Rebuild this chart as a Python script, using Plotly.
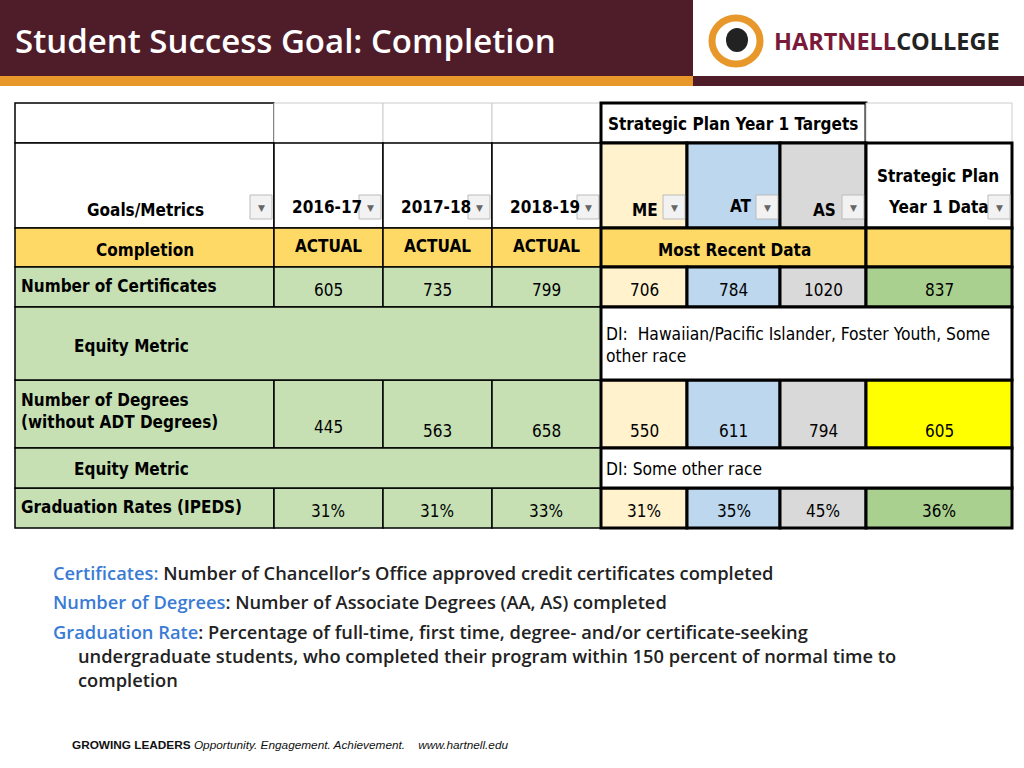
import plotly.graph_objects as go

# ---- data ----
years = ["2016-17", "2017-18", "2018-19"]
metrics = ["Number of Certificates", "Number of Degrees<br>(without ADT Degrees)", "Graduation Rates (IPEDS)"]
actual = [["605", "735", "799"], ["445", "563", "658"], ["31%", "31%", "33%"]]
target_labels = ["ME", "AT", "AS"]
targets = [["706", "784", "1020"], ["550", "611", "794"], ["31%", "35%", "45%"]]
year1_data = ["837", "605", "36%"]
equity_text = ["DI:  Hawaiian/Pacific Islander, Foster Youth, Some<br>other race", "DI: Some other race"]
definitions = [
    ("Certificates:", " Number of Chancellor’s Office approved credit certificates completed"),
    ("Number of Degrees", ": Number of Associate Degrees (AA, AS) completed"),
    ("Graduation Rate", ": Percentage of full-time, first time, degree- and/or certificate-seeking"),
]

# ---- style ----
MAROON = "#4f1c2a"; GOLD = "#e8982b"; GREEN = "#c6e0b4"; YEL = "#ffd966"
ME_C = "#fff2cc"; AT_C = "#bdd7ee"; AS_C = "#d9d9d9"; G2 = "#a9d08e"; Y2 = "#ffff00"
TF = "DejaVu Sans Condensed, Liberation Sans Narrow, sans-serif"
HF = "Open Sans, Lato, sans-serif"

fig = go.Figure()
shapes = []; ann = []

def rect(x0, y0, x1, y1, fill, lc="black", lw=1.5):
    shapes.append(dict(type="rect", x0=x0, y0=y0, x1=x1, y1=y1, fillcolor=fill,
                       line=dict(color=lc, width=lw), layer="below"))

def text(x, y, t, size=17, color="black", xa="center", ya="middle", font=TF, bold=False, weight=None):
    f = dict(size=size, color=color, family=font)
    if bold:
        f["weight"] = 700
    if weight:
        f["weight"] = weight
    ann.append(dict(x=x, y=y, text=t, showarrow=False, xanchor=xa, yanchor=ya,
                    font=f, align="left" if xa == "left" else "center"))

def dd(x, y):
    rect(x, y, x + 22, y + 24, "#f2f2f2", "#bbbbbb", 1)
    text(x + 11, y + 13, "▼", size=9, color="#666666", font="DejaVu Sans")

# header
rect(0, 0, 693, 76, MAROON, MAROON, 0)
rect(0, 76, 693, 86, GOLD, GOLD, 0)
rect(693, 76, 1024, 86, MAROON, MAROON, 0)
text(13, 40, "Student Success Goal: Completion", size=33, color="white", xa="left", font=HF, weight=600)
shapes.append(dict(type="circle", x0=712, y0=18, x1=760, y1=64, line=dict(color=GOLD, width=7)))
shapes.append(dict(type="path", path="M 736 16 A 24 24 0 0 1 760 41 L 752 41 A 16 16 0 0 0 736 24 Z", fillcolor=MAROON, line=dict(width=0)))
shapes.append(dict(type="path", path="M 762 41 A 24 24 0 0 1 736 66 L 736 58 A 16 16 0 0 0 754 41 Z", fillcolor=MAROON, line=dict(width=0)))
shapes.append(dict(type="circle", x0=726, y0=28, x1=748, y1=52, fillcolor="#222222", line=dict(width=0)))
text(772, 41, "<span style='color:#7a1a3a'>HARTNELL</span>COLLEGE", size=23.5, color="#222", xa="left", font=HF, bold=True)

# table geometry
X = [15, 274, 383, 492, 601, 687, 780, 866, 1012]

# top row
rect(15, 103, 274, 143, "white")
for i in range(3):
    rect(X[1 + i], 103, X[2 + i], 143, "white", "#cccccc", 1)
rect(601, 103, 866, 143, "white", "black", 3)
rect(866, 103, 1012, 143, "white", "#cccccc", 1)
text(733, 124, "Strategic Plan Year 1 Targets", bold=True)

# header row
rect(15, 143, 274, 228, "white")
text(145, 210, "Goals/Metrics", bold=True); dd(250, 195)
for i, yr in enumerate(years):
    rect(X[1 + i], 143, X[2 + i], 228, "white")
    text(X[1 + i] + 53, 207, yr, bold=True); dd(X[2 + i] - 24, 195)
for i, (lab, c) in enumerate(zip(target_labels, [ME_C, AT_C, AS_C])):
    rect(X[4 + i], 143, X[5 + i], 228, c, "black", 3)
    text(X[4 + i] + (44 if i != 1 else 54), 210 if i != 1 else 206, lab, bold=True)
    dd(X[5 + i] - 24, 195)
rect(866, 143, 1012, 228, "white", "black", 3)
text(938, 176, "Strategic Plan", bold=True)
text(938, 207, "Year 1 Data", bold=True); dd(988, 195)

# completion row
rect(15, 228, 274, 267, YEL)
text(145, 250, "Completion", bold=True)
for i in range(3):
    rect(X[1 + i], 228, X[2 + i], 267, YEL)
    text(X[1 + i] + 54, 246, "ACTUAL", bold=True)
rect(601, 228, 866, 267, YEL, "black", 3)
text(734, 250, "Most Recent Data", bold=True)
rect(866, 228, 1012, 267, YEL, "black", 3)

# data rows
data_rows = [(267, 307), (380, 448), (488, 528)]
for r, (y0, y1) in enumerate(data_rows):
    yc = (y0 + y1) / 2 + 3 if r != 1 else 431
    rect(15, y0, 274, y1, GREEN)
    if r == 1:
        text(19, 411, metrics[r], xa="left", bold=True)
    else:
        text(19, yc - 4, metrics[r], xa="left", bold=True)
    for i in range(3):
        rect(X[1 + i], y0, X[2 + i], y1, GREEN)
        yy = 427 if (r == 1 and i == 0) else yc
        text(X[1 + i] + 54, yy, actual[r][i])
    for i, c in enumerate([ME_C, AT_C, AS_C]):
        rect(X[4 + i], y0, X[5 + i], y1, c, "black", 3)
        text((X[4 + i] + X[5 + i]) / 2, yc, targets[r][i])
    rect(866, y0, 1012, y1, G2 if r != 1 else Y2, "black", 3)
    text(939, yc, year1_data[r])

# equity rows
for k, (y0, y1) in enumerate([(307, 380), (448, 488)]):
    rect(15, y0, 601, y1, GREEN)
    text(72, (y0 + y1) / 2 + (2 if k == 0 else 1), "Equity Metric", xa="left", bold=True)
    rect(601, y0, 1012, y1, "white", "black", 3)
    text(604, (y0 + y1) / 2 + 1, equity_text[k], size=17.3, xa="left")

# definitions
BLUE = "#3a7bd5"
ys = [572, 601, 631]
DS = 18.3
for (lab, rest), y in zip(definitions, ys):
    text(51, y, f"<span style='color:{BLUE}'>{lab}</span>{rest}", size=DS, color="#222", xa="left", font=HF, weight=600)
text(76, 655, "undergraduate students, who completed their program within 150 percent of normal time to", size=DS, color="#222", xa="left", font=HF, weight=600)
text(76, 679, "completion", size=DS, color="#222", xa="left", font=HF, weight=600)
text(70, 745, "<b>GROWING LEADERS</b> <i>Opportunity. Engagement. Achievement.</i>    <i>www.hartnell.edu</i>",
     size=11.8, color="#111", xa="left", font="Liberation Sans, sans-serif")

fig.update_layout(width=1024, height=768, margin=dict(l=0, r=0, t=0, b=0),
                  paper_bgcolor="white", plot_bgcolor="white", shapes=shapes, annotations=ann,
                  xaxis=dict(range=[0, 1024], visible=False, fixedrange=True),
                  yaxis=dict(range=[768, 0], visible=False, fixedrange=True), showlegend=False)
fig.write_html("out.html", config={"displayModeBar": False},
               post_script="document.body.style.margin='0';document.body.style.overflow='hidden';")
